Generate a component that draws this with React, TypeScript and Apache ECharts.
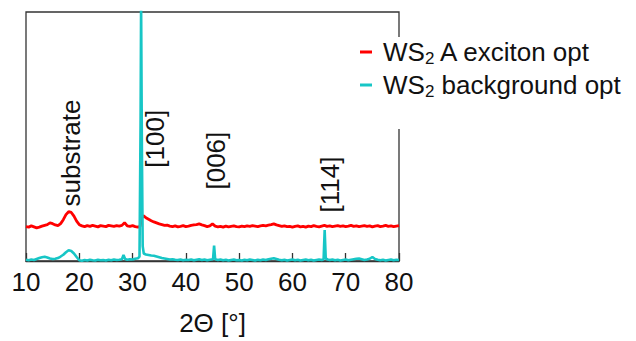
import React, { useEffect, useRef } from "react";
import * as echarts from "echarts";

const FONT = '"Liberation Sans", Arial, Helvetica, sans-serif';

const seriesNames = ["WS2 A exciton opt", "WS2 background opt"];
const legendHead = ["WS", "WS"];
const legendSub = ["2", "2"];
const legendTail = [" A exciton opt", " background opt"];
const seriesColors = ["#ff0000", "#17c6c6"];

const xMin = 10;
const xMax = 80;
const xStep = 10;
const yMin = 0;
const yMax = 100;

const redData: [number, number][] = [
  [10, 13.8], [10.5, 13.6], [11, 14.1], [11.5, 13.7], [12, 13.3], [12.5, 13.6], [13, 14.0], [13.5, 14.3],
  [14, 14.6], [14.5, 15.3], [15, 15.0], [15.5, 14.5], [16, 14.2], [16.5, 15.0], [17, 16.6], [17.5, 18.6],
  [18, 19.8], [18.5, 19.5], [19, 18.0], [19.5, 16.0], [20, 14.6], [20.5, 14.1], [21, 13.8], [21.5, 14.2],
  [22, 13.9], [22.5, 14.3], [23, 14.0], [23.5, 13.7], [24, 14.2], [24.5, 14.0], [25, 13.8], [25.5, 14.3],
  [26, 14.1], [26.5, 13.9], [27, 14.2], [27.5, 14.0], [28, 14.3], [28.5, 15.4], [29, 14.1], [29.5, 13.9],
  [30, 14.2], [30.5, 13.8], [31, 13.6], [31.4, 13.9], [31.7, 17.2], [32, 18.2], [32.5, 17.4], [33, 16.8],
  [33.5, 16.2], [34, 15.7], [34.5, 15.3], [35, 14.9], [35.5, 14.6], [36, 14.3], [36.5, 14.4], [37, 14.0],
  [37.5, 13.8], [38, 14.1], [38.5, 13.7], [39, 13.9], [39.5, 14.2], [40, 13.8], [40.5, 14.0], [41, 14.3],
  [41.5, 14.5], [42, 14.6], [42.5, 14.9], [43, 14.5], [43.5, 14.2], [44, 13.8], [44.5, 14.1], [45, 14.9],
  [45.5, 14.0], [46, 13.7], [46.5, 13.9], [47, 13.6], [47.5, 14.0], [48, 13.7], [48.5, 13.9], [49, 14.1],
  [49.5, 13.8], [50, 13.7], [50.5, 14.0], [51, 13.8], [51.5, 14.1], [52, 13.9], [52.5, 14.2], [53, 14.0],
  [53.5, 13.8], [54, 14.1], [54.5, 14.3], [55, 14.1], [55.5, 14.4], [56, 14.6], [56.5, 14.9], [57, 14.5],
  [57.5, 14.2], [58, 13.9], [58.5, 14.1], [59, 13.8], [59.5, 13.9], [60, 13.6], [60.5, 13.9], [61, 14.1],
  [61.5, 13.7], [62, 13.9], [62.5, 13.6], [63, 14.0], [63.5, 13.8], [64, 14.2], [64.5, 13.9], [65, 13.7],
  [65.5, 14.0], [66, 14.3], [66.5, 13.9], [67, 14.1], [67.5, 13.8], [68, 14.0], [68.5, 14.2], [69, 13.9],
  [69.5, 14.1], [70, 13.8], [70.5, 14.0], [71, 14.3], [71.5, 13.9], [72, 14.1], [72.5, 13.8], [73, 14.0],
  [73.5, 14.2], [74, 13.9], [74.5, 14.1], [75, 13.7], [75.5, 14.0], [76, 14.2], [76.5, 13.8], [77, 14.0],
  [77.5, 14.3], [78, 13.9], [78.5, 14.1], [79, 13.8], [79.5, 14.0], [80, 14.2],
];

const cyanData: [number, number][] = [
  [10, 0.5], [10.5, 0.3], [11, 0.6], [11.5, 0.4], [12, 0.8], [12.5, 1.2], [13, 1.5], [13.5, 1.7],
  [14, 1.4], [14.5, 1.0], [15, 0.8], [15.5, 0.9], [16, 1.2], [16.5, 1.8], [17, 2.5], [17.5, 3.5],
  [18, 4.3], [18.5, 4.0], [19, 3.0], [19.5, 1.6], [20, 0.3], [20.5, 0.1], [21, 0.4], [21.5, 0.2],
  [22, 0.5], [22.5, 0.3], [23, 0.2], [23.5, 0.5], [24, 0.3], [24.5, 0.4], [25, 0.2], [25.5, 0.5],
  [26, 0.3], [26.5, 0.6], [27, 0.4], [27.5, 0.5], [28, 0.7], [28.3, 2.4], [28.6, 0.8], [29, 0.5],
  [29.5, 0.7], [30, 0.6], [30.5, 0.9], [31, 1.1], [31.3, 1.8], [31.5, 55], [31.6, 104], [31.75, 45],
  [31.9, 6], [32.1, 3.0], [32.5, 2.6], [33, 2.4], [33.5, 2.2], [34, 2.1], [34.5, 1.8], [35, 1.5],
  [35.5, 1.2], [36, 1.0], [36.5, 0.8], [37, 0.6], [37.5, 0.7], [38, 0.5], [38.5, 0.4], [39, 0.6],
  [39.5, 0.3], [40, 0.5], [40.5, 0.4], [41, 0.6], [41.5, 0.3], [42, 0.5], [42.5, 0.7], [43, 0.4],
  [43.5, 0.6], [44, 0.3], [44.5, 0.5], [45.1, 0.7], [45.3, 6.2], [45.5, 0.7], [46, 0.4], [46.5, 0.6],
  [47, 0.3], [47.5, 0.5], [48, 0.2], [48.5, 0.4], [49, 0.6], [49.5, 0.3], [50, 0.4], [50.5, 0.2],
  [51, 0.5], [51.5, 0.3], [52, 0.6], [52.5, 0.4], [53, 0.2], [53.5, 0.5], [54, 0.3], [54.5, 0.6],
  [55, 0.4], [55.5, 0.7], [56, 0.9], [56.5, 1.1], [57, 0.8], [57.5, 0.5], [58, 0.3], [58.5, 0.5],
  [59, 0.2], [59.5, 0.4], [60, 0.6], [60.5, 0.3], [61, 0.5], [61.5, 0.2], [62, 0.4], [62.5, 0.6],
  [63, 0.3], [63.5, 0.5], [64, 0.2], [64.5, 0.4], [65, 0.6], [65.5, 0.4], [65.85, 0.7], [66.05, 12.4],
  [66.25, 1.0], [66.6, 0.6], [67, 0.4], [67.5, 0.6], [68, 0.3], [68.5, 0.5], [69, 0.2], [69.5, 0.4],
  [70, 0.6], [70.5, 0.3], [71, 0.5], [71.5, 0.7], [72, 0.9], [72.5, 1.0], [73, 0.7], [73.5, 0.4],
  [74, 0.6], [74.5, 0.9], [75, 1.6], [75.5, 0.8], [76, 0.5], [76.5, 0.3], [77, 0.5], [77.5, 0.2],
  [78, 0.4], [78.5, 0.6], [79, 0.3], [79.5, 0.5], [80, 0.4],
];

// peak annotations: label, x position (2Θ), y (start of rotated text, in plot units)
const annLabels = ["substrate", "[100]", "[006]", "[114]"];
const annX = [18.4, 34.2, 45.66, 67.05];
const annY = [21.9, 37.5, 28.7, 19.5];

const xAxisName = "2Θ [°]";

export default function App() {
  const ref = useRef<HTMLDivElement>(null);

  useEffect(() => {
    if (!ref.current) return;
    const chart = echarts.init(ref.current, null, { renderer: "svg" });
    const textColor = "#111";
    chart.setOption({
      animation: false,
      backgroundColor: "#ffffff",
      grid: {
        left: 26,
        right: 237,
        top: 12,
        bottom: 78,
        show: true,
        borderColor: "#333",
        borderWidth: 1.3,
        backgroundColor: "transparent",
      },
      xAxis: {
        type: "value",
        min: xMin,
        max: xMax,
        interval: xStep,
        axisLine: { show: true, lineStyle: { color: "#333", width: 1.3 } },
        axisTick: { show: true, inside: true, length: 8, lineStyle: { color: "#333", width: 1.3 } },
        axisLabel: { fontSize: 26, color: textColor, margin: 8, fontFamily: FONT },
        splitLine: { show: false },
        name: xAxisName,
        nameLocation: "middle",
        nameGap: 49,
        nameTextStyle: { fontSize: 26, color: textColor, fontFamily: FONT },
      },
      yAxis: {
        type: "value",
        min: yMin,
        max: yMax,
        axisLine: { show: false },
        axisTick: { show: false },
        axisLabel: { show: false },
        splitLine: { show: false },
      },
      legend: {
        data: seriesNames,
        orient: "vertical",
        left: 356,
        top: 37,
        itemWidth: 12,
        itemHeight: 3,
        itemGap: 5,
        icon: "rect",
        backgroundColor: "#ffffff",
        padding: [2, 5, 29, 4],
        formatter: (name: string) => {
          const i = seriesNames.indexOf(name);
          return `{a|${legendHead[i]}}{s|${legendSub[i]}}{a|${legendTail[i]}}`;
        },
        textStyle: {
          fontSize: 26,
          color: textColor,
          fontFamily: FONT,
          padding: [0, 0, 0, 6],
          rich: {
            a: { fontSize: 26, lineHeight: 30, color: textColor, fontFamily: FONT },
            s: { fontSize: 17, lineHeight: 14, verticalAlign: "bottom", color: textColor, fontFamily: FONT },
          },
        },
      },
      series: [
        {
          name: seriesNames[0],
          type: "line",
          data: redData,
          symbol: "none",
          showSymbol: false,
          lineStyle: { color: seriesColors[0], width: 2.8 },
          itemStyle: { color: seriesColors[0] },
          silent: true,
        },
        {
          name: seriesNames[1],
          type: "line",
          data: cyanData,
          symbol: "none",
          showSymbol: false,
          lineStyle: { color: seriesColors[1], width: 2.6 },
          itemStyle: { color: seriesColors[1] },
          silent: true,
        },
        {
          type: "scatter",
          data: annLabels.map((_, i) => [annX[i], annY[i]]),
          symbolSize: 0,
          silent: true,
          itemStyle: { opacity: 1 },
          label: {
            show: true,
            position: "inside",
            formatter: (p: any) => annLabels[p.dataIndex],
            rotate: 90,
            align: "left",
            verticalAlign: "middle",
            fontSize: 26,
            color: textColor,
            opacity: 1,
            fontFamily: FONT,
          },
        },
      ],
    });
    return () => chart.dispose();
  }, []);

  return (
    <div
      ref={ref}
      style={{ position: "fixed", left: 0, top: 0, width: 636, height: 341, background: "#fff" }}
    />
  );
}
